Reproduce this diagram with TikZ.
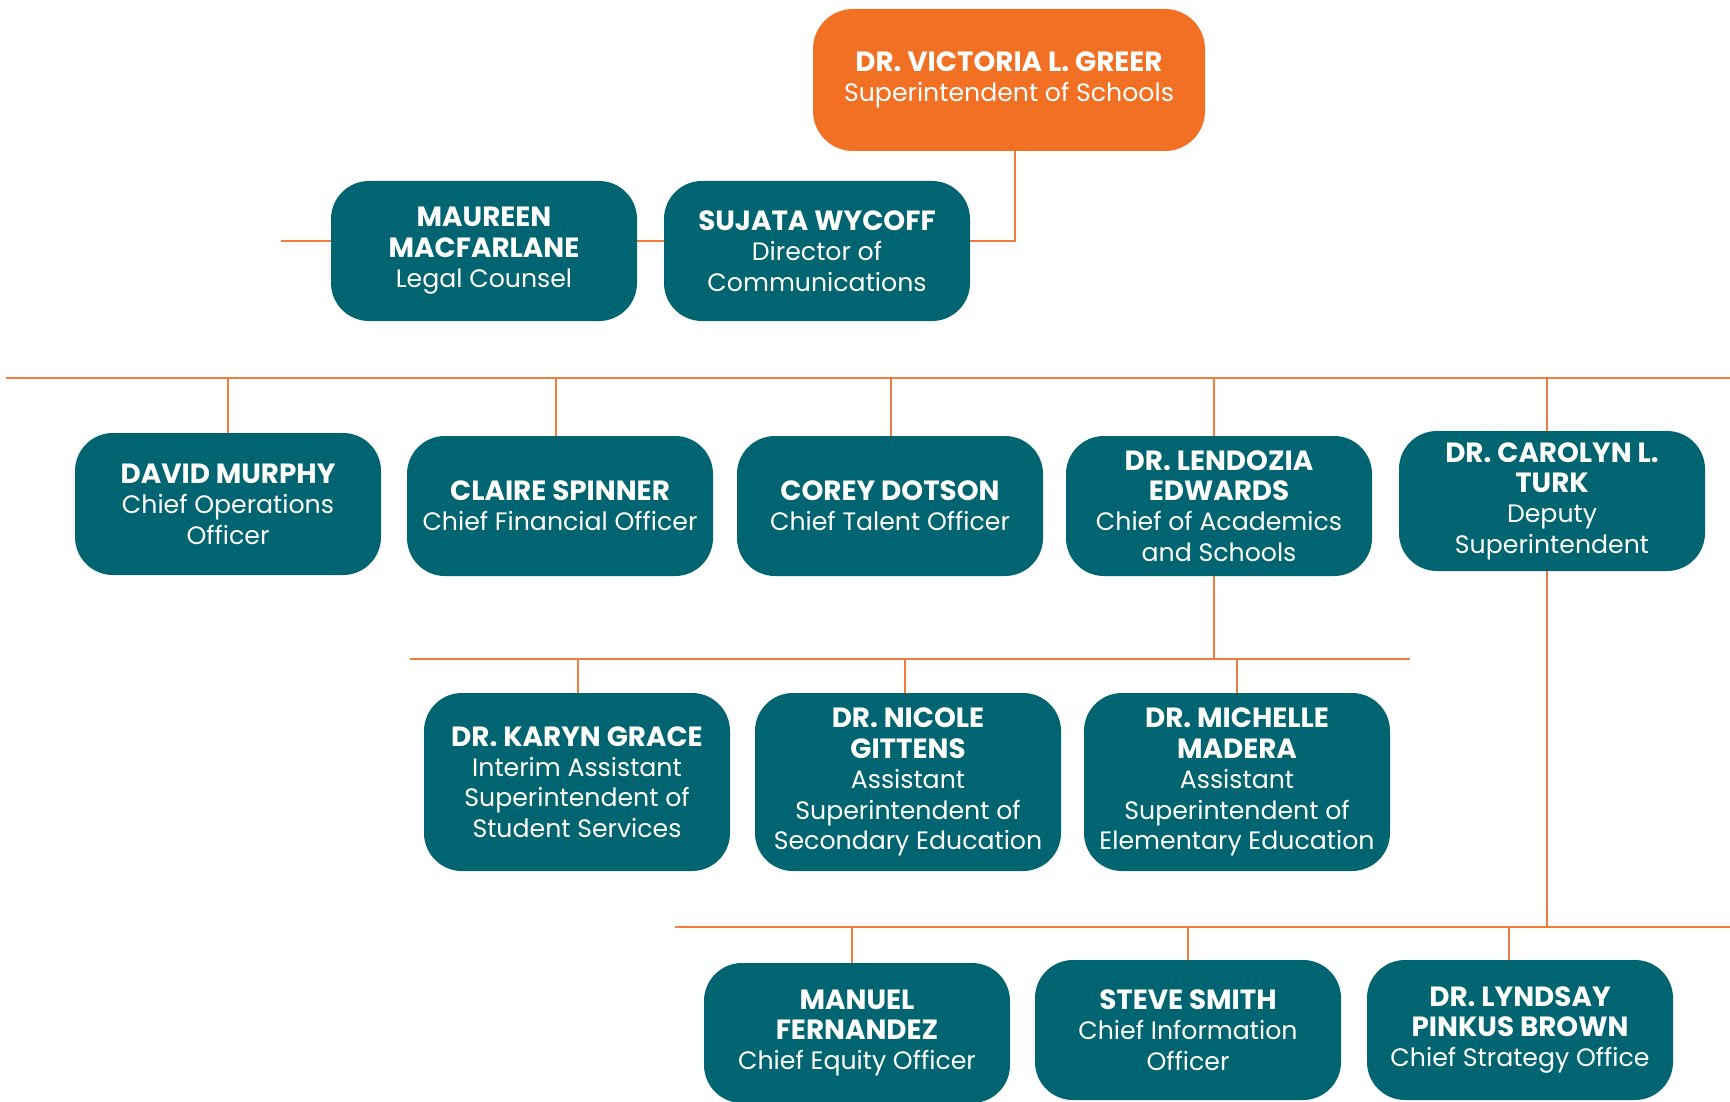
\documentclass[tikz,border=0pt]{standalone}
\usepackage{fontspec}
\setmainfont{Poppins}
\usetikzlibrary{positioning,calc,backgrounds}
\definecolor{orgorange}{HTML}{F27024}
\definecolor{orgteal}{HTML}{006570}
\definecolor{linkorange}{HTML}{F07E3A}
\tikzset{
  person/.style={rounded corners=19pt,fill=orgteal,text=white,align=center,
    minimum width=153pt,minimum height=70pt,inner sep=2pt,
    font=\fontsize{12.6}{15.2}\selectfont},
  chief/.style={person,fill=orgorange,minimum width=196pt,minimum height=71pt,rounded corners=20pt},
  link/.style={draw=linkorange,line width=1.2pt}
}
\newcommand{\who}[1]{{\fontsize{13.9}{15.2}\selectfont\bfseries #1}}
\begin{document}
\begin{tikzpicture}[x=0.5pt,y=-0.5pt]
\useasboundingbox (0,0) rectangle (1730,1102);
% top
\node[chief] (greer) at (1009,80) {\who{DR. VICTORIA L. GREER}\\Superintendent of Schools};
\node[person] (macfarlane) at (484,251) {\who{MAUREEN}\\\who{MACFARLANE}\\Legal Counsel};
\node[person] (wycoff) at (817,251) {\who{SUJATA WYCOFF}\\Director of\\Communications};
% second row
\node[person,minimum height=71pt] (murphy) at (228,504) {\who{DAVID MURPHY}\\Chief Operations\\Officer};
\node[person] (spinner) at (560,506) {\who{CLAIRE SPINNER}\\Chief Financial Officer};
\node[person] (dotson) at (890,506) {\who{COREY DOTSON}\\Chief Talent Officer};
\node[person] (edwards) at (1219,506) {\who{DR. LENDOZIA}\\\who{EDWARDS}\\Chief of Academics\\and Schools};
\node[person] (turk) at (1552,501) {\who{DR. CAROLYN L.}\\\who{TURK}\\Deputy\\Superintendent};
% third row
\node[person,minimum height=89pt] (grace) at (577,782) {\who{DR. KARYN GRACE}\\Interim Assistant\\Superintendent of\\Student Services};
\node[person,minimum height=89pt] (gittens) at (908,782) {\who{DR. NICOLE}\\\who{GITTENS}\\Assistant\\Superintendent of\\Secondary Education};
\node[person,minimum height=89pt] (madera) at (1237,782) {\who{DR. MICHELLE}\\\who{MADERA}\\Assistant\\Superintendent of\\Elementary Education};
% fourth row
\node[person] (fernandez) at (857,1033) {\who{MANUEL}\\\who{FERNANDEZ}\\Chief Equity Officer};
\node[person] (smith) at (1188,1030) {\who{STEVE SMITH}\\Chief Information\\Officer};
\node[person] (brown) at (1520,1030) {\who{DR. LYNDSAY}\\\who{PINKUS BROWN}\\Chief Strategy Office};
% bus ends
\coordinate (staffend) at (281,241);
\coordinate (cabwest) at (6,378);
\coordinate (cabeast) at (1730,378);
\coordinate (asstwest) at (410,659);
\coordinate (assteast) at (1410,659);
\coordinate (chwest) at (675,927);
\coordinate (cheast) at (1730,927);
\begin{pgfonlayer}{background}
\draw[link] ($(greer.south)+(6,0)$) |- (staffend);
\draw[link] ($(greer.south)+(47,0)$) -- ($(greer.south)+(47,0)$ |- cabwest);
\draw[link] (cabwest) -- (cabeast);
\foreach \n/\dx in {murphy/0,spinner/-4,dotson/1,edwards/-5,turk/-5}
  \draw[link] ([xshift=\dx*0.5pt]\n.north) -- ([xshift=\dx*0.5pt]\n.north |- cabwest);
\draw[link] ([xshift=-2.5pt]edwards.south) -- ([xshift=-2.5pt]edwards.south |- asstwest);
\draw[link] (asstwest) -- (assteast);
\foreach \n/\dx in {grace/1,gittens/-3,madera/0}
  \draw[link] ([xshift=\dx*0.5pt]\n.north) -- ([xshift=\dx*0.5pt]\n.north |- asstwest);
\draw[link] ([xshift=-2.5pt]turk.south) -- ([xshift=-2.5pt]turk.south |- chwest);
\draw[link] (chwest) -- (cheast);
\foreach \n/\dx in {fernandez/-5,smith/0,brown/-11}
  \draw[link] ([xshift=\dx*0.5pt]\n.north) -- ([xshift=\dx*0.5pt]\n.north |- chwest);
\end{pgfonlayer}
\end{tikzpicture}
\end{document}
